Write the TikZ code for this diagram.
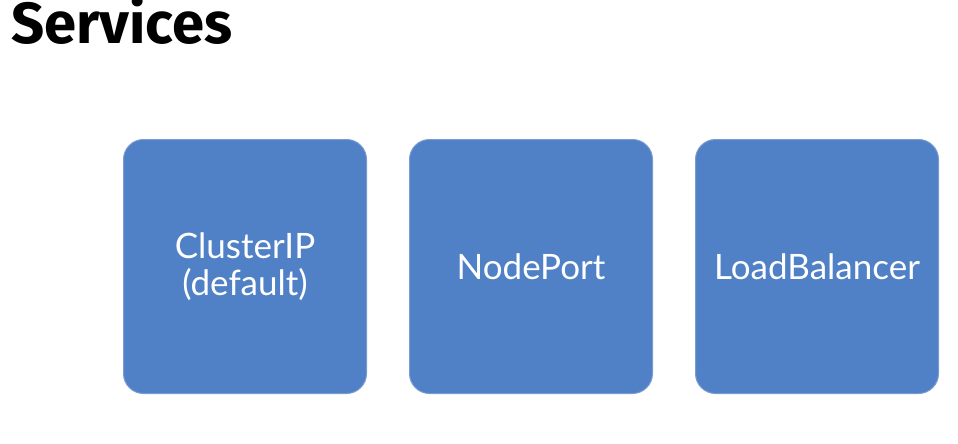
\documentclass[tikz,border=0pt]{standalone}
\usepackage{fontspec}
\setmainfont{Lato}
\newfontfamily\titlefont{Fira Sans}
\definecolor{boxblue}{RGB}{80,128,198}
\definecolor{boxedge}{RGB}{120,155,210}
\begin{document}
\begin{tikzpicture}[x=1pt,y=1pt,
  svc/.style={draw=boxedge, line width=1pt, fill=boxblue, rounded corners=20pt,
    minimum width=243pt, minimum height=254pt, inner sep=0pt, anchor=north west,
    text=white, font=\fontsize{35}{37}\selectfont, align=center}]
\useasboundingbox (0,0) rectangle (958,-444);
\fill[white] (0,0) rectangle (958,-444);
\node[anchor=base west, inner sep=0pt, font=\titlefont\bfseries\fontsize{58}{64}\selectfont] (title) at (11,-44) {Services};
\node[svc] (cip) at (123,-139) {ClusterIP\\(default)};
\node[svc] (np) at (409,-139) {NodePort};
\node[svc] (lb) at (695,-139) {LoadBalancer};
\end{tikzpicture}
\end{document}
